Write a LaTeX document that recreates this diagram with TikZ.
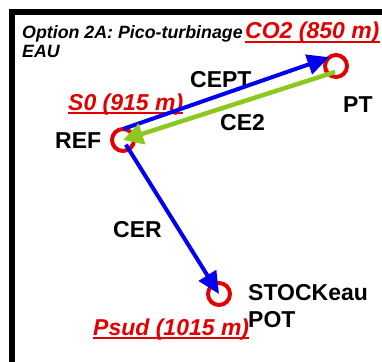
\documentclass[tikz,border=0pt]{standalone}
\usepackage{fontspec}
\setmainfont{Liberation Sans}
\usetikzlibrary{arrows.meta}
\definecolor{cred}{RGB}{226,0,0}
\definecolor{cblue}{RGB}{0,0,240}
\definecolor{cgreen}{RGB}{140,200,30}
\begin{document}
\begin{tikzpicture}[x=1pt,y=-1pt,
  site/.style={circle,draw=cred,line width=4pt,minimum size=22pt,inner sep=0pt,outer sep=0pt},
  lbl/.style={font=\fontsize{23}{23}\bfseries\selectfont,anchor=base west,inner sep=0pt},
  rlbl/.style={font=\fontsize{23}{23}\bfseries\itshape\selectfont,text=cred,anchor=base west,inner sep=0pt},
  ttl/.style={font=\fontsize{17.8}{17.8}\bfseries\itshape\selectfont,anchor=base west,inner sep=0pt},
  uline/.style={draw=cred,line width=2pt},
  bluearrow/.style={draw=cblue,line width=4pt,-{Triangle[length=22pt,width=20pt]}},
  greenarrow/.style={draw=cgreen,line width=4.5pt,-{Triangle[length=20pt,width=21pt]}},
  frame/.style={draw=black,line width=5.5pt,line join=miter}
]
\useasboundingbox (0,0) rectangle (382,361);
% frame
\coordinate (fbl) at (12,380);
\coordinate (ftl) at (12,12);
\coordinate (ftr) at (400,12);
\draw[frame] (fbl) -- (ftl) -- (ftr);

% title
\node[ttl] (t1) at (22,39) {Option 2A: Pico-turbinage};
\node[ttl] (t2) at (22,57) {EAU};

% sites
\node[site] (ref) at (123,140) {};
\node[site] (pt) at (336,66) {};
\node[site] (stock) at (219,294) {};

% red labels
\node[rlbl] (co2) at (245,39) {CO2 (850 m)};
\draw[uline] ([yshift=-3pt]co2.base west) -- ([yshift=-3pt]co2.base east);
\node[rlbl] (s0) at (68,110) {S0 (915 m)};
\draw[uline] ([yshift=-3pt]s0.base west) -- ([yshift=-3pt]s0.base east);
\node[rlbl] (psud) at (93,335) {Psud (1015 m)};
\draw[uline] ([yshift=-3pt]psud.base west) -- ([yshift=-3pt]psud.base east);

% black labels
\node[lbl] (lref) at (55,148) {REF};
\node[lbl] (lcept) at (190,87) {CEPT};
\node[lbl] (lpt) at (343,112) {PT};
\node[lbl] (lce2) at (220,130) {CE2};
\node[lbl] (lcer) at (113,237) {CER};
\node[lbl] (lstock) at (248,300) {STOCKeau};
\node[lbl] (lpot) at (248,327) {POT};

% connectors
\coordinate (ce2s) at (335,72);
\draw[bluearrow] (ref.north) -- (pt.127);
\draw[greenarrow] (ce2s) -- (ref.center);
\draw[bluearrow,shorten <=5.5pt] (ref.center) -- (stock.center);
\end{tikzpicture}
\end{document}
